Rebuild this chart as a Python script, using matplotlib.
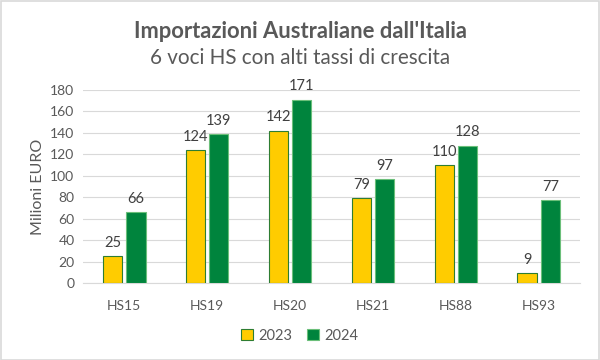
import matplotlib
matplotlib.use("Agg")
import matplotlib.pyplot as plt
import numpy as np

categories = ["HS15", "HS19", "HS20", "HS21", "HS88", "HS93"]
values_2023 = [25, 124, 142, 79, 110, 9]
values_2024 = [66, 139, 171, 97, 128, 77]
series_labels = ["2023", "2024"]
yticks = [0, 20, 40, 60, 80, 100, 120, 140, 160, 180]

plt.rcParams['font.family'] = ['Lato', 'DejaVu Sans']

fig = plt.figure(figsize=(6, 3.6), dpi=100)
ax = fig.add_axes([0.138, 0.214, 0.829, 0.536])

x = np.arange(len(categories))
w = 0.235
off = 0.14
yellow = "#FFCC00"
green = "#00843D"
b1 = ax.bar(x - off, values_2023, w, color=yellow, edgecolor="#2E7D32", linewidth=0.8, label=series_labels[0], zorder=3)
b2 = ax.bar(x + off, values_2024, w, color=green, edgecolor="#6BBF7A", linewidth=0.8, label=series_labels[1], zorder=3)

for bars, vals in ((b1, values_2023), (b2, values_2024)):
    for r, v in zip(bars, vals):
        ax.text(r.get_x() + r.get_width() / 2, v + 6, str(v), ha="center", va="bottom",
                fontsize=10.5, color="#404040")

ax.set_xlim(-0.5, len(categories) - 0.5)
ax.set_ylim(0, 180)
ax.set_yticks(yticks)
ax.set_xticks(x)
ax.set_xticklabels(categories)
ax.tick_params(axis="both", length=0, colors="#595959", labelsize=10)
ax.tick_params(axis="x", pad=12)
ax.tick_params(axis="y", pad=6)
ax.grid(axis="y", color="#D9D9D9", linewidth=0.8, zorder=0)
for s in ["top", "right", "left"]:
    ax.spines[s].set_visible(False)
ax.spines["bottom"].set_color("#D9D9D9")
ax.spines["bottom"].set_linewidth(0.8)
ax.set_ylabel("Milioni EURO", fontsize=11.5, color="#595959", labelpad=4)

fig.text(0.5, 0.912, "Importazioni Australiane dall'Italia", ha="center", va="center",
         fontsize=15.8, fontweight="bold", color="#595959")
fig.text(0.5, 0.838, "6 voci HS con alti tassi di crescita", ha="center", va="center",
         fontsize=14.9, color="#595959")

leg = fig.legend(handles=[b1, b2], labels=series_labels, loc="center", bbox_to_anchor=(0.5, 0.068),
                 ncol=2, frameon=False, fontsize=10.5, handlelength=0.8, handleheight=0.8,
                 columnspacing=1.0, handletextpad=0.4, labelcolor="#595959")

border = plt.Rectangle((0.001, 0.001), 0.997, 0.996, transform=fig.transFigure, fill=False,
                       edgecolor="#D9D9D9", linewidth=1.2)
fig.patches.append(border)

fig.savefig("out.png", dpi=100, facecolor="white")
